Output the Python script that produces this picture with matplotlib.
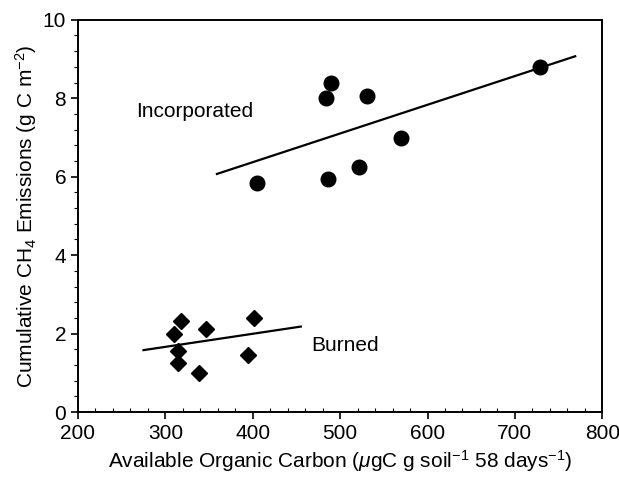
import numpy as np
import matplotlib
matplotlib.use("Agg")
from matplotlib import pyplot as plt
from matplotlib.ticker import MultipleLocator

# incorporated residue (circles)
inc_x = [405, 484, 490, 486, 531, 522, 570, 729]
inc_y = [5.85, 8.01, 8.38, 5.94, 8.06, 6.25, 6.99, 8.80]
inc_fit_x = [359, 769]
inc_fit_y = [6.07, 9.07]

# burned residue (diamonds)
brn_x = [310, 318, 315, 315, 338, 347, 395, 401]
brn_y = [2.00, 2.32, 1.55, 1.25, 1.00, 2.12, 1.45, 2.40]
brn_fit_x = [275, 455]
brn_fit_y = [1.58, 2.18]

plt.rcParams['font.family'] = ['Liberation Sans', 'DejaVu Sans']
plt.rcParams['mathtext.fontset'] = 'custom'
plt.rcParams['mathtext.rm'] = 'Liberation Sans'
plt.rcParams['mathtext.it'] = 'Liberation Sans:italic'
plt.rcParams['font.size'] = 15

fig = plt.figure(figsize=(6.19, 4.82), dpi=100)
ax = fig.add_axes([0.126, 0.145, 0.847, 0.814])

ax.plot(inc_fit_x, inc_fit_y, color='black', lw=1.6)
ax.plot(brn_fit_x, brn_fit_y, color='black', lw=1.6)
ax.plot(inc_x, inc_y, 'o', color='black', ms=10.5)
ax.plot(brn_x, brn_y, 'D', color='black', ms=8.5)

ax.text(334, 7.65, 'Incorporated', ha='center', va='center', fontsize=15)
ax.text(467, 1.7, 'Burned', ha='left', va='center', fontsize=15)

ax.set_xlim(200, 800)
ax.set_ylim(0, 10)
ax.xaxis.set_major_locator(MultipleLocator(100))
ax.xaxis.set_minor_locator(MultipleLocator(20))
ax.yaxis.set_major_locator(MultipleLocator(2))
ax.yaxis.set_minor_locator(MultipleLocator(0.4))
ax.tick_params(which='major', direction='out', length=5, width=1.2, labelsize=15)
ax.tick_params(axis='x', which='minor', direction='in', length=3, width=0.8)
ax.tick_params(axis='y', which='minor', direction='out', length=3, width=0.8)

for s in ax.spines.values():
    s.set_linewidth(1.4)

ax.set_xlabel(r'Available Organic Carbon ($\mathit{\mu}$gC g soil$^{-1}$ 58 days$^{-1}$)', fontsize=15, labelpad=4)
ax.set_ylabel(r'Cumulative CH$_4$ Emissions (g C m$^{-2}$)', fontsize=15, labelpad=3)

fig.savefig('out.png', dpi=100)
